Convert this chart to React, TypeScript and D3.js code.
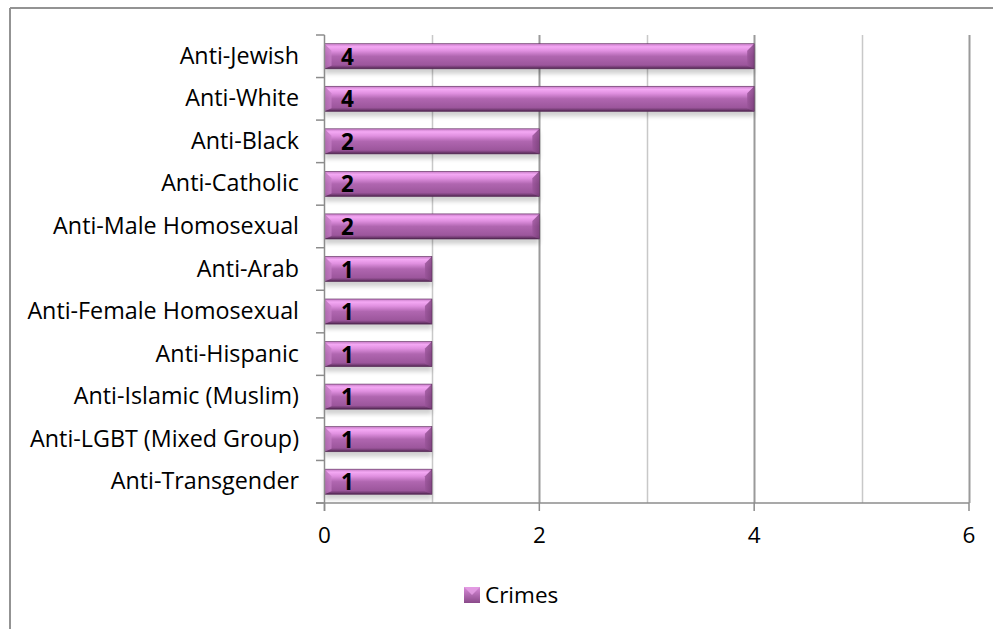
import React from "react";
import * as d3 from "d3";

const categories = [
  "Anti-Jewish",
  "Anti-White",
  "Anti-Black",
  "Anti-Catholic",
  "Anti-Male Homosexual",
  "Anti-Arab",
  "Anti-Female Homosexual",
  "Anti-Hispanic",
  "Anti-Islamic (Muslim)",
  "Anti-LGBT (Mixed Group)",
  "Anti-Transgender",
];
const crimes = [4, 4, 2, 2, 2, 1, 1, 1, 1, 1, 1];
const xTicks = [0, 2, 4, 6];
const seriesName = "Crimes";

const W = 993;
const H = 629;
const FONT = "'Open Sans', 'Noto Sans', sans-serif";
const FS = 22.5;
const FS_CAT = 23.3;

export default function App() {
  const x = d3.scaleLinear().domain([0, 6]).range([324.5, 969]);
  const y = d3.scaleBand<string>().domain(categories).range([35, 503]).paddingInner(0.41).paddingOuter(0.205);
  const step = y.step();
  const bands = d3.range(categories.length + 1).map((i) => 35 + i * step);
  const gridVals = d3.range(1, 7);
  const bev = 7;

  return (
    <svg width={W} height={H} style={{ position: "absolute", left: 0, top: 0, background: "#fff" }}>
      <defs>
        <linearGradient id="barG" x1="0" y1="0" x2="0" y2="1">
          <stop offset="0" stopColor="#c57ac5" />
          <stop offset="0.12" stopColor="#f4a8f4" />
          <stop offset="0.28" stopColor="#e090e0" />
          <stop offset="0.5" stopColor="#b066b0" />
          <stop offset="0.85" stopColor="#9c569c" />
          <stop offset="0.93" stopColor="#763e76" />
          <stop offset="1" stopColor="#4a214a" />
        </linearGradient>
        <linearGradient id="bevL" x1="0" y1="0" x2="1" y2="0">
          <stop offset="0" stopColor="#b06ab0" />
          <stop offset="1" stopColor="#c880c8" />
        </linearGradient>
        <linearGradient id="bevR" x1="0" y1="0" x2="1" y2="0">
          <stop offset="0" stopColor="#9a559a" />
          <stop offset="1" stopColor="#7a3f7a" />
        </linearGradient>
        <linearGradient id="legG" x1="0" y1="0" x2="0" y2="1">
          <stop offset="0" stopColor="#d88ad8" />
          <stop offset="1" stopColor="#8a4a8a" />
        </linearGradient>
        <filter id="shadow" x="-5%" y="-20%" width="110%" height="160%">
          <feGaussianBlur stdDeviation="2" />
        </filter>
      </defs>

      {/* outer frame */}
      <line x1={10} y1={8} x2={W} y2={8} stroke="#939393" strokeWidth={2} />
      <line x1={10} y1={8} x2={10} y2={H} stroke="#939393" strokeWidth={2} />

      {/* gridlines */}
      {gridVals.map((v) => (
        <line
          key={"g" + v}
          x1={Math.round(x(v)) + 0.5}
          x2={Math.round(x(v)) + 0.5}
          y1={35}
          y2={503}
          stroke={v % 2 === 0 ? "#9a9a9a" : "#c8c8c8"}
          strokeWidth={v % 2 === 0 ? 2 : 1.5}
        />
      ))}

      {/* bars */}
      {categories.map((c, i) => {
        const x0 = x(0);
        const x1 = x(crimes[i]);
        const y0 = y(c)!;
        const h = y.bandwidth();
        const y1 = y0 + h;
        return (
          <g key={c}>
            <rect x={x0} y={y0 + 3} width={x1 - x0} height={h + 2} fill="#000" opacity={0.18} filter="url(#shadow)" />
            <rect x={x0} y={y0} width={x1 - x0} height={h} fill="url(#barG)" />
            <polygon
              points={`${x0},${y0} ${x0 + bev},${y0 + bev} ${x0 + bev},${y1 - 3} ${x0},${y1}`}
              fill="url(#bevL)"
              opacity={0.75}
            />
            <polygon
              points={`${x1},${y0} ${x1 - bev},${y0 + bev} ${x1 - bev},${y1 - 3} ${x1},${y1}`}
              fill="url(#bevR)"
              opacity={0.8}
            />
            <rect x={x0} y={y0} width={x1 - x0} height={h} fill="none" stroke="#5a2c5a" strokeWidth={0.6} />
            <text
              x={x0 + 23}
              y={y0 + h / 2 + 8.5}
              textAnchor="middle"
              fontFamily={FONT}
              fontWeight="bold"
              fontSize={FS}
              fill="#000"
            >
              {crimes[i]}
            </text>
          </g>
        );
      })}

      {/* axes */}
      <line x1={324.5} x2={324.5} y1={35} y2={511} stroke="#8c8c8c" strokeWidth={1.5} />
      <line x1={316} x2={969} y1={503} y2={503} stroke="#8c8c8c" strokeWidth={1.5} />
      {bands.map((b, i) => (
        <line key={"t" + i} x1={316} x2={324.5} y1={b} y2={b} stroke="#8c8c8c" strokeWidth={1.5} />
      ))}
      {xTicks.map((t) => (
        <line key={"xt" + t} x1={x(t)} x2={x(t)} y1={503} y2={511} stroke="#8c8c8c" strokeWidth={1.5} />
      ))}

      {/* category labels */}
      {categories.map((c) => (
        <text
          key={"l" + c}
          x={299}
          y={y(c)! + y.bandwidth() / 2 + 7.5}
          textAnchor="end"
          fontFamily={FONT}
          fontSize={FS_CAT}
          fill="#000"
        >
          {c}
        </text>
      ))}

      {/* x tick labels */}
      {xTicks.map((t) => (
        <text key={"xl" + t} x={x(t)} y={543} textAnchor="middle" fontFamily={FONT} fontSize={FS} fill="#000">
          {t}
        </text>
      ))}

      {/* legend */}
      <rect x={464} y={587} width={16} height={16} fill="url(#legG)" />
      <polygon points="464,587 480,587 472,595" fill="#e6a0e6" opacity={0.8} />
      <text x={485} y={603} fontFamily={FONT} fontSize={FS} fill="#000">
        {seriesName}
      </text>
    </svg>
  );
}
